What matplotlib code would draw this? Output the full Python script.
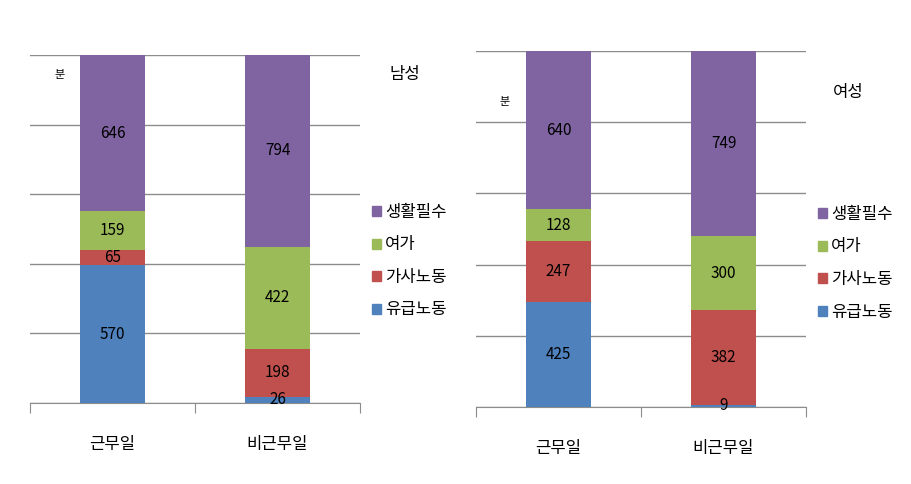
import matplotlib
matplotlib.use("Agg")
import matplotlib.pyplot as plt
from matplotlib.patches import Patch

plt.rcParams['font.family'] = ['Noto Sans CJK KR', 'DejaVu Sans']

categories = ['근무일', '비근무일']
series_names = ['유급노동', '가사노동', '여가', '생활필수']
colors = ['#4F81BD', '#C0504D', '#9BBB59', '#8064A2']

male_values = {
    '유급노동': [570, 26],
    '가사노동': [65, 198],
    '여가': [159, 422],
    '생활필수': [646, 794],
}
female_values = {
    '유급노동': [425, 9],
    '가사노동': [247, 382],
    '여가': [128, 300],
    '생활필수': [640, 749],
}

W, H = 911, 484


def px_axes(fig, x0, y_top, x1, y_bottom):
    return fig.add_axes([x0 / W, 1 - y_bottom / H, (x1 - x0) / W, (y_bottom - y_top) / H])


def draw_panel(ax, values):
    xs = list(range(len(categories)))
    bottoms = [0] * len(categories)
    for name, color in zip(series_names, colors):
        vals = values[name]
        ax.bar(xs, vals, width=0.39, bottom=bottoms, color=color, zorder=3)
        for x, v, b in zip(xs, vals, bottoms):
            ax.text(x, b + v / 2, str(v), ha='center', va='center',
                    fontsize=11, color='black', zorder=4)
        bottoms = [b + v for b, v in zip(bottoms, vals)]

    ax.set_xlim(-0.5, 1.5)
    ax.set_ylim(0, 1440)
    ax.set_yticks([0, 288, 576, 864, 1152, 1440])
    ax.yaxis.grid(True, color='#8c8c8c', linewidth=1)
    ax.set_axisbelow(True)
    ax.tick_params(axis='y', left=False, labelleft=False)
    for s in ['left', 'right', 'top']:
        ax.spines[s].set_visible(False)
    ax.spines['bottom'].set_color('#8c8c8c')

    ax.set_xticks([-0.5, 0.5, 1.5])
    ax.set_xticklabels(['', '', ''])
    ax.tick_params(axis='x', which='major', length=7, color='#8c8c8c', direction='out')
    ax.set_xticks(xs, minor=True)
    ax.set_xticklabels(categories, minor=True, fontsize=12)
    ax.tick_params(axis='x', which='minor', length=0, pad=24)


fig = plt.figure(figsize=(W / 100, H / 100), dpi=100)

ax1 = px_axes(fig, 30, 55, 360, 403)
draw_panel(ax1, male_values)
ax2 = px_axes(fig, 476, 51, 806, 407)
draw_panel(ax2, female_values)

fig.text(60 / W, 1 - 75 / H, '분', fontsize=8, ha='center', va='center')
fig.text(505 / W, 1 - 102 / H, '분', fontsize=8, ha='center', va='center')
fig.text(405 / W, 1 - 75 / H, '남성', fontsize=12, ha='center', va='center')
fig.text(848 / W, 1 - 92 / H, '여성', fontsize=12, ha='center', va='center')

handles = [Patch(color=c, label=n) for n, c in zip(series_names, colors)][::-1]
for hx, hy in [(372, 204), (818, 206)]:
    fig.legend(handles=handles, loc='upper left',
               bbox_to_anchor=(hx / W, 1 - hy / H),
               frameon=False, fontsize=12, handlelength=0.55, handleheight=0.55,
               handletextpad=0.25, labelspacing=0.93, borderpad=0, borderaxespad=0)

fig.savefig('out.png', dpi=100)
